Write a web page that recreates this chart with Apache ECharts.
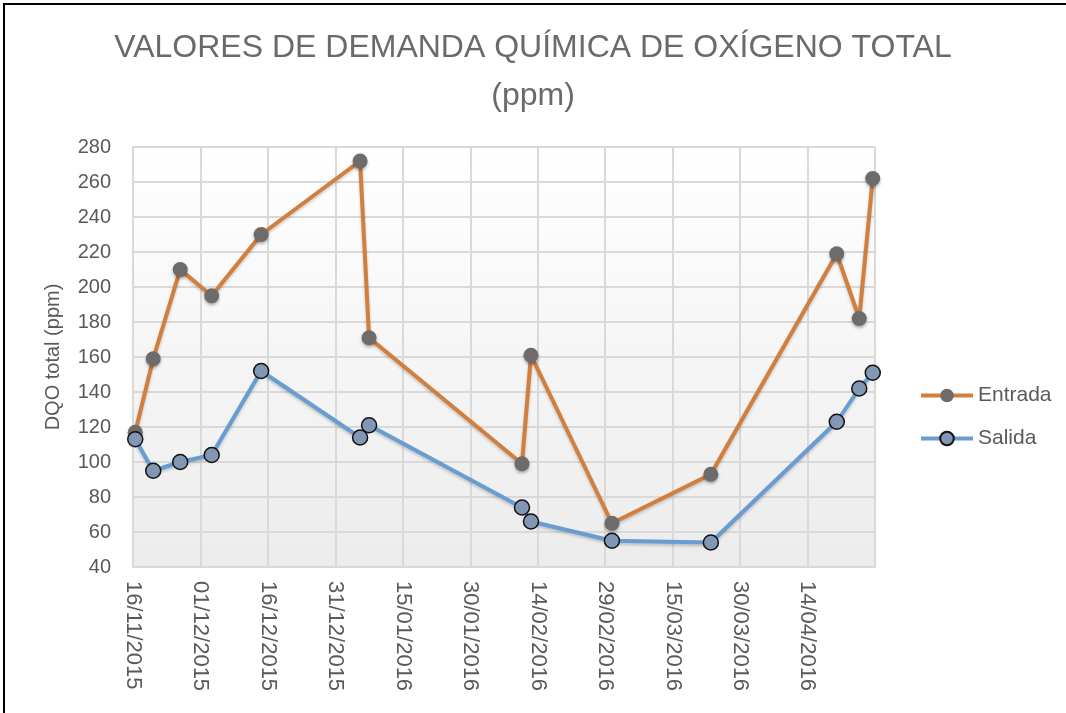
<!DOCTYPE html>
<html>
<head>
<meta charset="utf-8">
<script src="https://cdn.jsdelivr.net/npm/echarts@6/dist/echarts.min.js"></script>
<style>
  html, body { margin: 0; padding: 0; background: #fff; overflow: hidden; }
  #chart { width: 1066px; height: 713px; }
  #frame { position: absolute; left: 3px; top: 3px; width: 1200px; height: 900px; border: 2px solid #000; pointer-events: none; }
</style>
</head>
<body>
<div id="chart"></div>
<div id="frame"></div>
<script>
var DAY = 86400000;

// sampling dates (dd/mm/yyyy)
var dates = ['2015-11-16', '2015-11-20', '2015-11-26', '2015-12-03', '2015-12-14', '2016-01-05', '2016-01-07',
             '2016-02-10', '2016-02-12', '2016-03-01', '2016-03-23', '2016-04-20', '2016-04-25', '2016-04-28'];
var entrada = [117, 159, 210, 195, 230, 272, 171, 99, 161, 65, 93, 219, 182, 262];
var salida = [113, 95, 100, 104, 152, 114, 121, 74, 66, 55, 54, 123, 142, 151];

var xStart = '2015-11-16';
var xEnd = '2016-04-29';
var yTicks = [40, 280, 20]; // min, max, step

function ts(s) {
  var p = s.split('-');
  return Date.UTC(+p[0], +p[1] - 1, +p[2]);
}
function pad(n) { return n < 10 ? '0' + n : '' + n; }
function fmt(v) {
  var d = new Date(v);
  return pad(d.getUTCDate()) + '/' + pad(d.getUTCMonth() + 1) + '/' + d.getUTCFullYear();
}
// Excel date axis puts each point in the middle of its day slot
function pairs(vals) {
  return vals.map(function(v, i) { return [ts(dates[i]) + DAY / 2, v]; });
}

var txt = '#595959';
var grid = '#d9d9d9';
var font = '"Liberation Sans", Arial, sans-serif';
var orange = '#d27e3d';
var blue = '#679dd0';

var chart = echarts.init(document.getElementById('chart'), null, { renderer: 'canvas' });
chart.setOption({
  animation: false,
  backgroundColor: '#fff',
  title: {
    text: 'VALORES DE DEMANDA QUÍMICA DE OXÍGENO TOTAL\n(ppm)',
    left: 'center',
    top: 19,
    textStyle: { fontFamily: font, fontSize: 32, fontWeight: 'normal', color: '#6a6a6a', lineHeight: 48 }
  },
  legend: {
    orient: 'vertical',
    left: 914,
    top: 380,
    itemWidth: 52,
    itemHeight: 17,
    itemGap: 22,
    textStyle: { fontFamily: font, fontSize: 21, color: txt },
    data: [
      { name: 'Entrada', lineStyle: { width: 4, color: orange } },
      { name: 'Salida', lineStyle: { width: 4, color: blue } }
    ]
  },
  grid: {
    left: 133, right: 191, top: 147, bottom: 146,
    show: true,
    borderWidth: 0,
    backgroundColor: new echarts.graphic.LinearGradient(0, 0, 0, 1, [
      { offset: 0, color: '#ffffff' },
      { offset: 1, color: '#ececec' }
    ])
  },
  xAxis: {
    type: 'value',
    min: ts(xStart),
    max: ts(xEnd),
    interval: 15 * DAY,
    axisLine: { show: true, lineStyle: { color: grid, width: 2 } },
    axisTick: { show: false },
    splitLine: { show: true, lineStyle: { color: grid, width: 2 } },
    axisLabel: {
      rotate: -90,
      margin: 14,
      showMaxLabel: false,
      color: txt,
      fontFamily: font,
      fontSize: 22,
      formatter: fmt
    }
  },
  yAxis: {
    type: 'value',
    min: yTicks[0],
    max: yTicks[1],
    interval: yTicks[2],
    name: 'DQO total (ppm)',
    nameLocation: 'middle',
    nameRotate: 90,
    nameGap: 70,
    nameTextStyle: { fontFamily: font, fontSize: 20, color: txt },
    axisLine: { show: true, lineStyle: { color: grid, width: 2 } },
    axisTick: { show: false },
    splitLine: { show: true, lineStyle: { color: grid, width: 2 } },
    axisLabel: { color: txt, fontFamily: font, fontSize: 20, margin: 22 }
  },
  series: [
    {
      name: 'Entrada',
      type: 'line',
      data: pairs(entrada),
      symbol: 'circle',
      symbolSize: 15,
      lineStyle: { color: orange, width: 4, shadowColor: 'rgba(0,0,0,0.2)', shadowBlur: 3, shadowOffsetY: 2 },
      itemStyle: { color: '#6e6b6b', borderWidth: 0, shadowColor: 'rgba(0,0,0,0.3)', shadowBlur: 3, shadowOffsetY: 2 }
    },
    {
      name: 'Salida',
      type: 'line',
      data: pairs(salida),
      symbol: 'circle',
      symbolSize: 15,
      lineStyle: { color: blue, width: 4, shadowColor: 'rgba(0,0,0,0.2)', shadowBlur: 3, shadowOffsetY: 2 },
      itemStyle: { color: '#8197b3', borderColor: '#111', borderWidth: 1.5 }
    }
  ]
});
window.addEventListener('resize', function() { chart.resize(); });
</script>
</body>
</html>
